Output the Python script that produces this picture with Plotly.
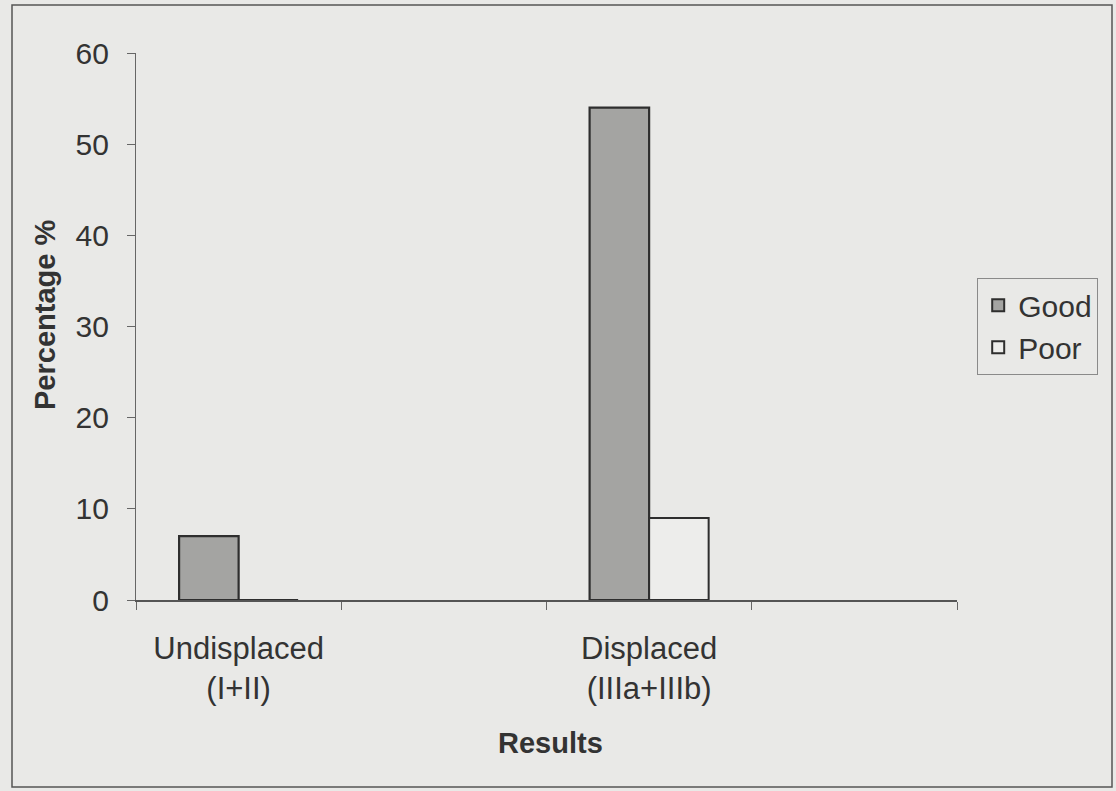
import plotly.graph_objects as go

categories = ["Undisplaced<br>(I+II)", " ", "Displaced<br>(IIIa+IIIb)", "  "]
good = [7, None, 54, None]
poor = [0, None, 9, None]
y_ticks = [0, 10, 20, 30, 40, 50, 60]

W, H = 1116, 791
ml, mr, mt, mb = 136, 159, 53, 191
pw, ph = W - ml - mr, H - mt - mb

BG = "#e9e9e7"
TXT = "#333333"
FONT = "Liberation Sans, Arial, sans-serif"

fig = go.Figure()
fig.add_trace(go.Bar(
    x=categories, y=good, name="Good",
    marker=dict(color="#a4a4a2", line=dict(color="#2e2e2e", width=2.2)),
))
fig.add_trace(go.Bar(
    x=categories, y=poor, name="Poor",
    marker=dict(color="#ededeb", line=dict(color="#2e2e2e", width=2)),
))

def px(x):
    return (x - ml) / pw

def py(y):
    return (H - mb - y) / ph

fig.update_layout(
    width=W, height=H,
    margin=dict(l=ml, r=mr, t=mt, b=mb, autoexpand=False),
    paper_bgcolor=BG, plot_bgcolor=BG,
    font=dict(family=FONT, size=30, color=TXT),
    barmode="group", bargap=0.42, bargroupgap=0,
    showlegend=True,
    legend=dict(
        x=px(977), y=py(278), xanchor="left", yanchor="top",
        bgcolor="rgba(0,0,0,0)", bordercolor="#8a8a8a", borderwidth=1.2,
        font=dict(family=FONT, size=30, color=TXT),
        itemsizing="constant", tracegroupgap=0, itemwidth=30,
    ),
    xaxis=dict(
        type="category", categoryorder="array", categoryarray=categories,
        showline=True, linecolor="#555555", linewidth=1.5,
        ticks="outside", tickson="boundaries", ticklen=8, tickcolor="#666666",
        showgrid=False, zeroline=False, fixedrange=True,
        tickfont=dict(family=FONT, size=31, color=TXT),
        ticklabelstandoff=20,
    ),
    yaxis=dict(
        range=[0, 60], tickvals=y_ticks,
        showline=True, linecolor="#666666", linewidth=1.2,
        ticks="outside", ticklen=8, tickcolor="#666666",
        showgrid=False, zeroline=False, fixedrange=True,
        tickfont=dict(family=FONT, size=30, color=TXT),
        ticklabelstandoff=12,
    ),
    annotations=[
        dict(text="<b>Percentage %</b>", x=px(45), y=py(315), xref="paper", yref="paper",
             xanchor="center", yanchor="middle",
             textangle=-90, showarrow=False, font=dict(family=FONT, size=29, color=TXT)),
        dict(text="<b>Results</b>", x=px(550), y=py(743), xref="paper", yref="paper",
             xanchor="center", yanchor="middle",
             showarrow=False, font=dict(family=FONT, size=29, color=TXT)),
    ],
    shapes=[
        dict(type="rect", xref="paper", yref="paper",
             x0=px(12), x1=px(1112), y0=py(787), y1=py(5),
             line=dict(color="#555555", width=1.5), fillcolor="rgba(0,0,0,0)", layer="below"),
    ],
)

fig.write_html(
    "out.html",
    config={"displayModeBar": False},
    post_script="document.body.style.margin='0';document.body.style.background='%s';" % BG,
)
